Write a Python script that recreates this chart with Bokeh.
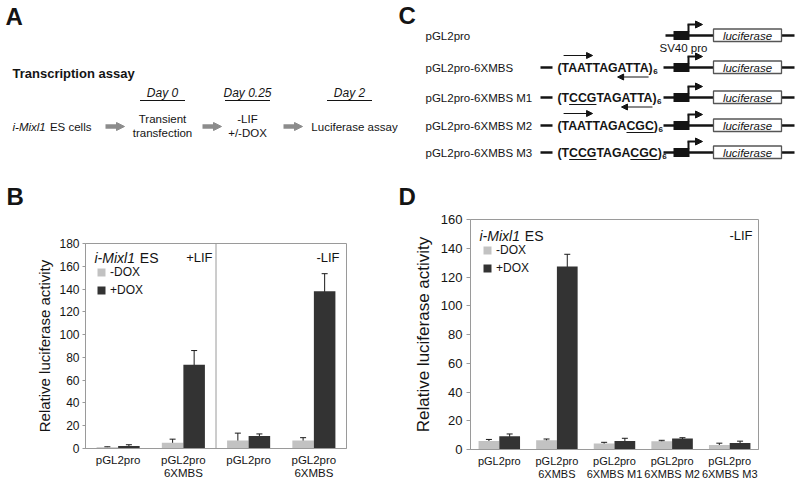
from bokeh.plotting import figure
from bokeh.models import (Range1d, ColumnDataSource, Whisker, TeeHead, Span, Label,
                          Legend, LegendItem, FixedTicker, Arrow, NormalHead)
from bokeh.layouts import column, row
from bokeh.core.properties import value
from bokeh.embed import file_html
from bokeh.resources import INLINE

FONT = "Liberation Sans"
INK = "#141414"
LIGHT = "#c2c2c2"
DARK = "#333333"
FRAME = "#9a9a9a"
ARROW_GRAY = "#8c8c8c"

# ---------------- data: panel B ----------------
b_categories = ["pGL2pro", "pGL2pro\n6XMBS", "pGL2pro", "pGL2pro\n6XMBS"]
b_conditions = ["+LIF", "-LIF"]
b_minus_dox = [1.0, 5.0, 7.0, 7.0]
b_minus_err = [0.5, 3.2, 6.5, 2.5]
b_plus_dox = [2.3, 73.5, 11.0, 138.0]
b_plus_err = [1.0, 12.5, 1.8, 15.5]
b_yticks = [0, 20, 40, 60, 80, 100, 120, 140, 160, 180]

# ---------------- data: panel D ----------------
d_categories = ["pGL2pro", "pGL2pro\n6XMBS", "pGL2pro\n6XMBS M1",
                "pGL2pro\n6XMBS M2", "pGL2pro\n6XMBS M3"]
d_condition = "-LIF"
d_minus_dox = [6.0, 6.5, 4.2, 5.8, 3.2]
d_minus_err = [1.0, 0.8, 0.8, 0.6, 1.2]
d_plus_dox = [9.3, 127.3, 6.0, 7.6, 4.6]
d_plus_err = [1.5, 8.5, 1.8, 0.6, 1.2]
d_yticks = [0, 20, 40, 60, 80, 100, 120, 140, 160]

series_labels = ["-DOX", "+DOX"]
cell_line = "i-Mixl1"
y_title = "Relative luciferase activity"
panel_letters = ["A", "B", "C", "D"]

# ---------------- data: panel A ----------------
timeline_days = ["Day 0", "Day 0.25", "Day 2"]
timeline_steps = [["Transient", "transfection"], ["-LIF", "+/-DOX"], ["Luciferase assay"]]

# ---------------- data: panel C ----------------
c_constructs = ["pGL2pro", "pGL2pro-6XMBS", "pGL2pro-6XMBS M1",
                "pGL2pro-6XMBS M2", "pGL2pro-6XMBS M3"]
c_sequences = ["", "TAATTAGATTA", "TCCGTAGATTA", "TAATTAGACGC", "TCCGTAGACGC"]
c_repeats = "6"

# Liberation Sans advance widths (1/1000 em) and a kerning estimate
REG_W = {"i": 222, "-": 333, "M": 833, "x": 500, "l": 222, "1": 556, " ": 278}
BOLD_W = {"(": 333, ")": 333, "T": 611, "A": 722, "G": 778, "C": 722}
BOLD_KERN = {("T", "A"): -74, ("A", "T"): -74}

TOP_H = 210      # height of the top row (panels A and C, plus the B / D letters)
A_W = 398        # width of panel A (panel C fills the rest)
B_W = 397        # width of panel B (panel D fills the rest)


def text_width(s, size, table):
    return sum(table.get(ch, 556) for ch in s) * size / 1000.0


def char_positions(s, x0, size):
    pos = [x0]
    for j, ch in enumerate(s):
        k = BOLD_KERN.get((ch, s[j + 1]), 0) if j + 1 < len(s) else 0
        pos.append(pos[-1] + (BOLD_W.get(ch, 556) + k) * size / 1000.0)
    return pos


def blank(w, h, xr, yr):
    p = figure(width=w, height=h, x_range=Range1d(*xr), y_range=Range1d(*yr),
               output_backend="svg", toolbar_location=None,
               x_axis_location=None, y_axis_location=None, min_border=0)
    p.outline_line_color = None
    p.grid.visible = False
    return p


def txt(p, x, y, s, size, style="normal", align="left", baseline="middle", color=INK):
    p.text(x=[x], y=[y], text=[s], text_font=value(FONT),
           text_font_size=value(f"{size}px"), text_font_style=value(style),
           text_align=value(align), text_baseline=value(baseline), text_color=color)


# ================= Panel A  (page coords) =================
pa = blank(A_W, TOP_H, (0, A_W), (TOP_H, 0))
txt(pa, 5, 15.5, panel_letters[0], 24, "bold")
txt(pa, 6, 196, panel_letters[1], 24, "bold")
txt(pa, 12, 73, "Transcription assay", 13, "bold")
txt(pa, 12, 126, cell_line, 11.5, "italic")
txt(pa, 12 + text_width(cell_line + " ", 11.5, REG_W) + 1, 126, "ES cells", 11.5)

day_cx = [162, 247, 349]
step_cx = [162, 247, 354]
arrow_x = [(105, 124), (202, 221), (283, 302)]
for dx, sx, day, lines in zip(day_cx, step_cx, timeline_days, timeline_steps):
    txt(pa, dx, 92, day, 12, "italic", align="center")
    pa.segment(x0=[dx - 22.5], y0=[100], x1=[dx + 22.5], y1=[100], line_color=INK, line_width=1.2)
    if len(lines) == 2:
        txt(pa, sx, 118, lines[0], 11.5, align="center")
        txt(pa, sx, 132, lines[1], 11.5, align="center")
    else:
        txt(pa, sx, 126, lines[0], 11.5, align="center")
for x0, x1 in arrow_x:
    pa.add_layout(Arrow(x_start=x0, y_start=126, x_end=x1, y_end=126,
                        line_color=ARROW_GRAY, line_width=4.5,
                        end=NormalHead(size=8, fill_color=ARROW_GRAY, line_color=ARROW_GRAY)))

# ================= Panel C  (page coords) =================
pc = blank(800 - A_W, TOP_H, (A_W, 800), (TOP_H, 0))
txt(pc, 398, 15, panel_letters[2], 24, "bold")
txt(pc, 398, 196, panel_letters[3], 24, "bold")
rows_y = [35, 67, 97, 125, 152]
wt = c_sequences[1]
SEQ_FS = 12.3
for k, (name, seq) in enumerate(zip(c_constructs, c_sequences)):
    y = rows_y[k]
    txt(pc, 425, y, name, 11.5)
    line_start = 665
    if seq:
        pc.segment(x0=[540], y0=[y], x1=[552], y1=[y], line_color=INK, line_width=2.3)
        full = "(" + seq + ")"
        pos = char_positions(full, 557, SEQ_FS)
        txt(pc, 557, y, full, SEQ_FS, "bold")
        # underline mutated letters (runs that differ from the wild type)
        i = 0
        while i < len(seq):
            if seq[i] != wt[i]:
                j = i
                while j < len(seq) and seq[j] != wt[j]:
                    j += 1
                pc.segment(x0=[pos[i + 1]], y0=[y + 7], x1=[pos[j + 1]], y1=[y + 7],
                           line_color=INK, line_width=1.2)
                i = j
            else:
                i += 1
        txt(pc, pos[-1] + 0.5, y + 4, c_repeats, 8, "bold")
        # half-site arrows
        if seq[0:4] == wt[0:4]:
            pc.add_layout(Arrow(x_start=pos[1] + 2, y_start=y - 12, x_end=pos[5], y_end=y - 12,
                                line_color=INK, line_width=1.1,
                                end=NormalHead(size=6, fill_color=INK, line_color=INK)))
        if seq[7:11] == wt[7:11]:
            pc.add_layout(Arrow(x_start=pos[12], y_start=y + 9.5, x_end=pos[8], y_end=y + 9.5,
                                line_color=INK, line_width=1.1,
                                end=NormalHead(size=6, fill_color=INK, line_color=INK)))
        line_start = 663
    pc.segment(x0=[line_start], y0=[y], x1=[794], y1=[y], line_color=INK, line_width=2.3)
    pc.quad(left=[673], right=[689], top=[y - 4.5], bottom=[y + 4.5], fill_color=INK, line_color=None)
    pc.segment(x0=[688], y0=[y - 4], x1=[688], y1=[y - 11], line_color=INK, line_width=2)
    pc.add_layout(Arrow(x_start=687, y_start=y - 11, x_end=702, y_end=y - 11,
                        line_color=INK, line_width=2,
                        end=NormalHead(size=7, fill_color=INK, line_color=INK)))
    pc.quad(left=[713], right=[781], top=[y - 6.5], bottom=[y + 6], fill_color="white",
            line_color="#555555", line_width=1.3)
    txt(pc, 747, y, "luciferase", 11.5, "italic", align="center")
txt(pc, 683, 47, "SV40 pro", 11.5, align="center")


# ================= Bar panels =================
def bar_panel(cats, minus, minus_err, plus, plus_err, ymax, yticks, width, borders, frame,
              offset, bar_w, tick_size, xlabel_size, title_size, tick_out, tick_standoff,
              title_standoff):
    n = len(cats)
    idx = list(range(n))
    p = figure(width=width, height=485 - TOP_H, x_range=Range1d(-0.5, n - 0.5),
               y_range=Range1d(0, ymax), output_backend="svg", toolbar_location=None,
               min_border_left=borders[0], min_border_right=borders[1],
               min_border_top=borders[2], min_border_bottom=borders[3])
    p.grid.visible = False
    p.outline_line_color = FRAME
    p.outline_line_width = 1

    xm = [i - offset for i in idx]
    xp = [i + offset for i in idx]
    src_m = ColumnDataSource(dict(x=xm, top=minus,
                                  upper=[v + e for v, e in zip(minus, minus_err)],
                                  lower=[v - e for v, e in zip(minus, minus_err)]))
    src_p = ColumnDataSource(dict(x=xp, top=plus,
                                  upper=[v + e for v, e in zip(plus, plus_err)],
                                  lower=[v - e for v, e in zip(plus, plus_err)]))
    r_m = p.vbar(x="x", top="top", width=bar_w, source=src_m, fill_color=LIGHT, line_color=None)
    r_p = p.vbar(x="x", top="top", width=bar_w, source=src_p, fill_color=DARK, line_color=None)
    for src in (src_m, src_p):
        p.add_layout(Whisker(source=src, base="x", upper="upper", lower="lower",
                             line_color="#1a1a1a", line_width=1,
                             upper_head=TeeHead(size=6, line_color="#1a1a1a", line_width=1),
                             lower_head=TeeHead(size=6, line_color="#1a1a1a", line_width=1)))

    xa = p.xaxis[0]
    xa.ticker = FixedTicker(ticks=idx)
    xa.major_label_overrides = {i: c for i, c in enumerate(cats)}
    xa.major_tick_out = 0
    xa.major_tick_in = 0
    xa.minor_tick_out = 0
    xa.minor_tick_in = 0
    xa.axis_line_color = FRAME
    xa.major_label_text_font = FONT
    xa.major_label_text_font_size = f"{xlabel_size}px"
    xa.major_label_text_color = INK
    xa.major_label_standoff = 5
    xa.major_label_text_line_height = 1.1

    ya = p.yaxis[0]
    ya.ticker = FixedTicker(ticks=yticks)
    ya.major_tick_out = tick_out
    ya.major_tick_in = 0
    ya.minor_tick_out = 0
    ya.minor_tick_in = 0
    ya.axis_line_color = FRAME
    ya.major_tick_line_color = FRAME
    ya.major_label_text_font = FONT
    ya.major_label_text_font_size = f"{tick_size}px"
    ya.major_label_text_color = INK
    ya.major_label_standoff = tick_standoff
    ya.axis_label = y_title
    ya.axis_label_text_font = FONT
    ya.axis_label_text_font_size = f"{title_size}px"
    ya.axis_label_text_font_style = "normal"
    ya.axis_label_text_color = INK
    ya.axis_label_standoff = title_standoff

    fl, fr, ft, fb = frame

    def to_data(px, py):
        return (-0.5 + (px - fl) / (fr - fl) * n, (fb - py) / (fb - ft) * ymax)

    legend = Legend(items=[LegendItem(label=series_labels[0], renderers=[r_m]),
                           LegendItem(label=series_labels[1], renderers=[r_p])],
                    orientation="vertical", glyph_width=10, glyph_height=10,
                    label_height=12, label_width=20, label_standoff=4, spacing=4,
                    padding=0, margin=0, border_line_color=None, background_fill_alpha=0,
                    label_text_font=FONT, label_text_font_size="12px", label_text_color=INK)
    return p, to_data, legend


def add_label(p, to_data, px, py, s, size, style="normal", align="left", baseline="middle"):
    x, y = to_data(px, py)
    p.add_layout(Label(x=x, y=y, text=s, text_font=FONT, text_font_size=f"{size}px",
                       text_font_style=style, text_align=align, text_baseline=baseline,
                       text_color=INK))


# Panel B  (page frame: left 85, right 346, top 243, bottom 448)
pb, tdb, legb = bar_panel(b_categories, b_minus_dox, b_minus_err, b_plus_dox, b_plus_err,
                          180, b_yticks, B_W, (85, B_W - 346, 243 - TOP_H, 485 - 448),
                          (85, 346, 243, 448), 0.165, 0.33, 12, 11.5, 15, 3, 3, 3)
pb.add_layout(Span(location=1.5, dimension="height", line_color=FRAME, line_width=1))
legb.location = (11, 151)
pb.add_layout(legb)
add_label(pb, tdb, 94, 257, cell_line, 14, "italic")
add_label(pb, tdb, 94 + text_width(cell_line + " ", 14, REG_W) + 1, 257, "ES", 14)
add_label(pb, tdb, 212, 257, b_conditions[0], 13, align="right")
add_label(pb, tdb, 339, 257, b_conditions[1], 13, align="right")

# Panel D  (page frame: left 470, right 758, top 219, bottom 449)
pd, tdd, legd = bar_panel(d_categories, d_minus_dox, d_minus_err, d_plus_dox, d_plus_err,
                          160, d_yticks, 800 - B_W, (470 - B_W, 800 - 758, 219 - TOP_H, 485 - 449),
                          (470, 758, 219, 449), 0.18, 0.36, 13, 11, 17, 4, 4, 5)
legd.location = (12, 174)
pd.add_layout(legd)
add_label(pd, tdd, 479, 235, cell_line, 14, "italic")
add_label(pd, tdd, 479 + text_width(cell_line + " ", 14, REG_W) + 1, 235, "ES", 14)
add_label(pd, tdd, 752, 235, d_condition, 13, align="right")

layout = column(row(pa, pc), row(column(pb), column(pd)))
open("out.html", "w").write(file_html(layout, INLINE))
